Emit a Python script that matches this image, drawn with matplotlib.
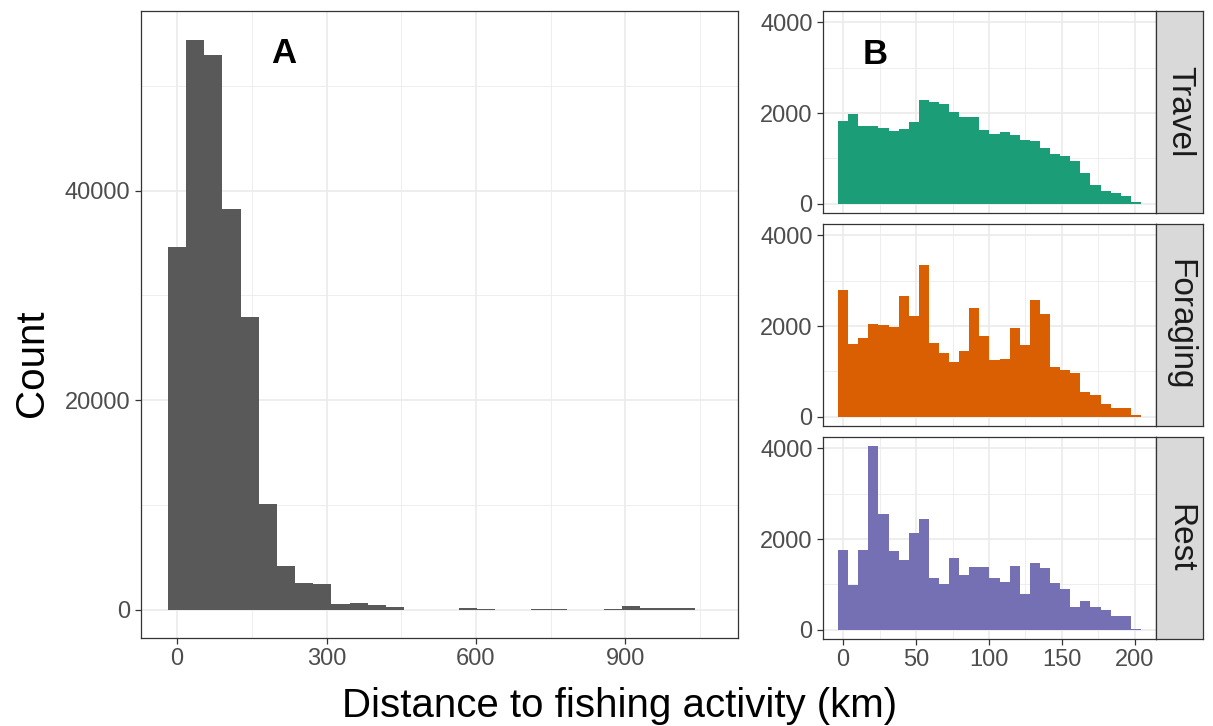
import matplotlib.pyplot as plt
import numpy as np

plt.rcParams['font.family'] = ['Liberation Sans', 'DejaVu Sans']

# Panel A: all locations pooled, 30 bins
bin_all = 36.45
count_all = [34590, 54440, 53000, 38210, 27940, 10120, 4150, 2570, 2410, 570,
             650, 470, 220, 0, 0, 0, 120, 50, 0, 0,
             50, 50, 0, 0, 50, 300, 150, 150, 150, 0]

# Panel B: split by behaviour, 30 bins each
bin_beh = 6.92
behaviours = ['Travel', 'Foraging', 'Rest']
colours = ['#1B9E77', '#D95F02', '#7570B3']
count_travel = [1820, 1980, 1720, 1710, 1680, 1600, 1660, 1800, 2280, 2250,
                2200, 2015, 1915, 1920, 1635, 1535, 1590, 1525, 1415, 1380,
                1225, 1090, 1050, 940, 670, 415, 290, 235, 175, 45]
count_foraging = [2800, 1605, 1740, 2055, 2025, 1975, 2670, 2230, 3340, 1620,
                  1400, 1205, 1445, 2400, 1775, 1260, 1285, 1950, 1585, 2570,
                  2275, 1095, 1035, 960, 545, 485, 285, 205, 205, 45]
count_rest = [1760, 995, 1760, 4050, 2550, 1745, 1540, 2125, 2435, 1150,
              1000, 1580, 1220, 1375, 1390, 1150, 1065, 1405, 790, 1485,
              1360, 1030, 905, 505, 630, 510, 430, 305, 300, 20]
counts_beh = [count_travel, count_foraging, count_rest]

GRID = '#EBEBEB'
FRAME = '#333333'
TICKTXT = '#4D4D4D'


def style_axes(ax):
    ax.set_facecolor('white')
    ax.set_axisbelow(True)
    ax.grid(which='major', color=GRID, lw=1.2)
    ax.grid(which='minor', color=GRID, lw=0.6)
    for s in ax.spines.values():
        s.set_color(FRAME)
        s.set_linewidth(0.9)
    ax.tick_params(which='major', length=4.5, width=0.9, color=FRAME,
                   labelcolor=TICKTXT, labelsize=17, pad=3)
    ax.tick_params(which='minor', length=0)


fig = plt.figure(figsize=(12.13, 7.26), dpi=100)

# panel A
axA = fig.add_axes([0.1162, 0.1212, 0.4926, 0.8636])
xa = np.arange(len(count_all)) * bin_all
axA.bar(xa, count_all, width=bin_all, color='#595959', lw=0)
axA.set_xlim(-72.5, 1127)
axA.set_ylim(-2722, 57160)
axA.set_xticks([0, 300, 600, 900])
axA.set_xticks([150, 450, 750, 1050], minor=True)
axA.set_yticks([0, 20000, 40000])
axA.set_yticks([10000, 30000, 50000], minor=True)
style_axes(axA)
axA.text(215, 53100, 'A', fontsize=25, fontweight='bold', ha='center', va='center')

# panel B facets
tops = [11, 224, 437]
fh = 202
for i, (name, col, cnt) in enumerate(zip(behaviours, colours, counts_beh)):
    bottom = (726 - tops[i] - fh) / 726
    ax = fig.add_axes([823 / 1213, bottom, 333 / 1213, fh / 726])
    xb = np.arange(len(cnt)) * bin_beh
    ax.bar(xb, cnt, width=bin_beh, color=col, lw=0)
    ax.set_xlim(-13.8, 214.5)
    ax.set_ylim(-202, 4253)
    ax.set_xticks([0, 50, 100, 150, 200])
    ax.set_xticks([25, 75, 125, 175], minor=True)
    ax.set_yticks([0, 2000, 4000])
    ax.set_yticks([1000, 3000], minor=True)
    style_axes(ax)
    if i < 2:
        ax.tick_params(axis='x', which='major', length=0, labelbottom=False)
    if i == 0:
        ax.text(21.8, 3286, 'B', fontsize=25, fontweight='bold', ha='center', va='center')

    # facet strip
    st = fig.add_axes([1156 / 1213, bottom, 47 / 1213, fh / 726])
    st.set_facecolor('#D9D9D9')
    st.set_xticks([])
    st.set_yticks([])
    for s in st.spines.values():
        s.set_color(FRAME)
        s.set_linewidth(0.9)
    st.text(0.5, 0.5, name, rotation=-90, fontsize=24, color='#1A1A1A',
            ha='center', va='center', transform=st.transAxes)

fig.text(0.026, 0.5, 'Count', rotation=90, fontsize=29, ha='center', va='center')
fig.text(342 / 1213, 9 / 726, 'Distance to fishing activity (km)', fontsize=29,
         ha='left', va='baseline')

fig.savefig('out.png', dpi=100)
